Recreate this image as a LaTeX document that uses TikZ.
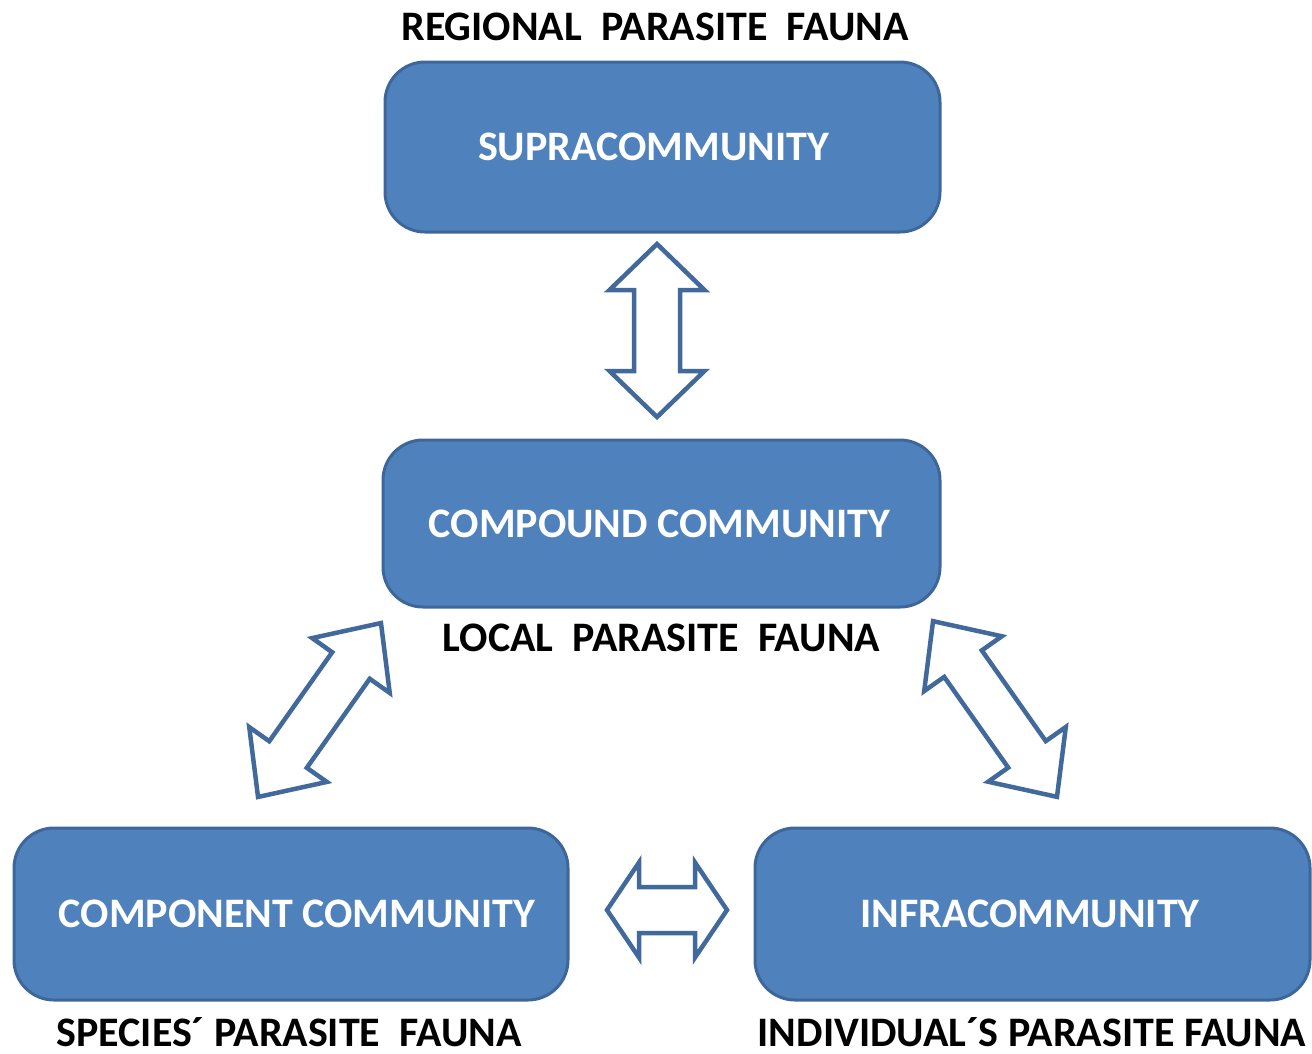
\documentclass[tikz,border=0pt]{standalone}
\usepackage{fontspec}
\setmainfont{Carlito}
\definecolor{boxfill}{HTML}{4F81BD}
\definecolor{boxline}{HTML}{3D679A}
\definecolor{arrline}{HTML}{41699C}
\newcommand{\dblarr}[5]{% name, center, angle, length, head length
  \begin{scope}[shift={#2},rotate=#3]
    \coordinate (#1) at (0,0);
    \draw[arrowshape] (-#4/2,0) -- (-#4/2+#5,47.5) -- (-#4/2+#5,23) -- (#4/2-#5,23) -- (#4/2-#5,47.5) -- (#4/2,0)
      -- (#4/2-#5,-47.5) -- (#4/2-#5,-23) -- (-#4/2+#5,-23) -- (-#4/2+#5,-47.5) -- cycle;
  \end{scope}}
\begin{document}
\begin{tikzpicture}[x=1pt,y=1pt,
  commbox/.style={draw=boxline, line width=3pt, fill=boxfill, rounded corners=40pt,
    text=white, font=\fontsize{42}{50}\selectfont\bfseries, inner sep=0pt},
  lbl/.style={font=\fontsize{42}{50}\selectfont\bfseries, text=black, anchor=base, inner sep=0pt, text depth=0pt},
  arrowshape/.style={draw=arrline, line width=4.5pt, fill=white, line join=miter}]
\useasboundingbox (0,0) rectangle (1312,-1053);

\node[commbox, minimum width=555pt, minimum height=170pt] (supra) at (662.5,-147) {\hspace*{-18pt}SUPRACOMMUNITY};
\node[commbox, minimum width=557pt, minimum height=167pt] (compound) at (661.5,-523.5) {\hspace*{-4pt}COMPOUND COMMUNITY};
\node[commbox, minimum width=554pt, minimum height=172pt] (component) at (291,-914) {\hspace*{12pt}COMPONENT COMMUNITY};
\node[commbox, minimum width=555pt, minimum height=172pt] (infra) at (1032.5,-914) {\hspace*{-5pt}INFRACOMMUNITY};

\node[lbl] (regional) at (655,-40) {REGIONAL\ \ PARASITE\ \ FAUNA};
\node[lbl] (local) at (661.5,-651) {LOCAL\ \ PARASITE\ \ FAUNA};
\node[lbl] (species) at (289,-1046) {SPECIES´ PARASITE\ \ FAUNA};
\node[lbl] (individual) at (1032,-1046) {INDIVIDUAL´S PARASITE FAUNA};

\dblarr{a1}{(657,-330.5)}{90}{173}{46}
\dblarr{a2}{(667,-910)}{0}{120}{32}
\dblarr{a3}{(319.5,-710)}{54.74}{213}{52}
\dblarr{a4}{(995,-709)}{-54.8}{215}{52}
\end{tikzpicture}
\end{document}
